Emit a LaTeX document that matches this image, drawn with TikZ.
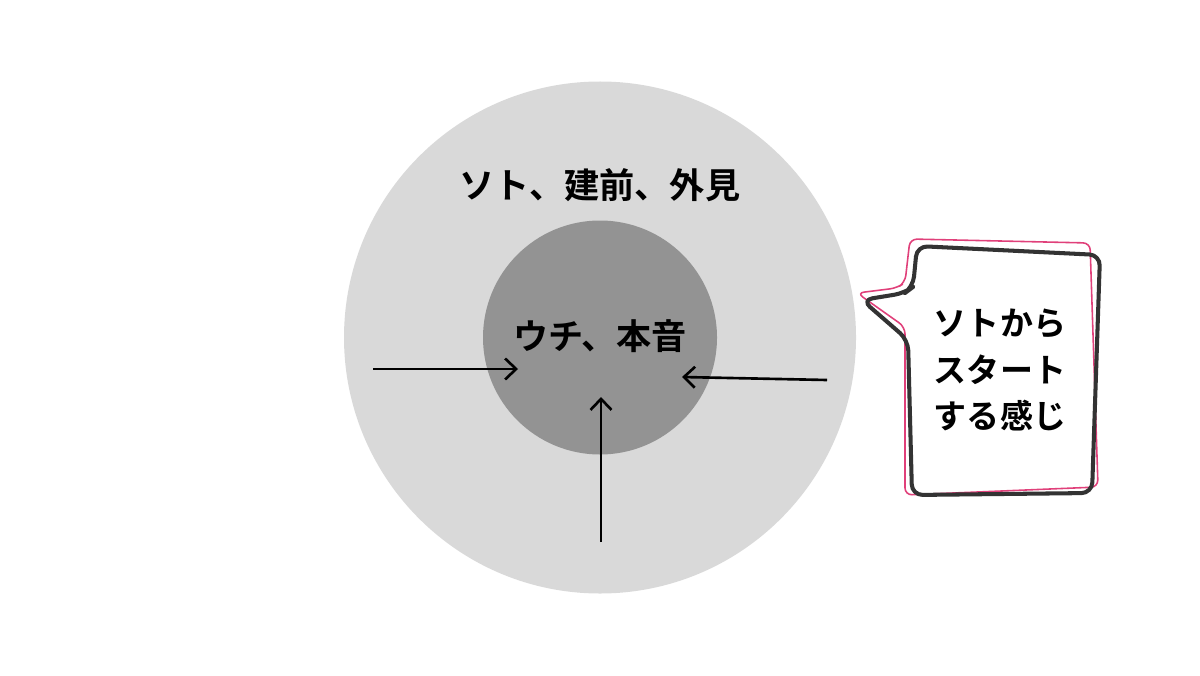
\documentclass[tikz,border=0pt]{standalone}
\usepackage{fontspec}
\newfontfamily\jpfont{Noto Sans CJK JP}[BoldFont={Noto Sans CJK JP Bold}]
\usetikzlibrary{arrows.meta}
\definecolor{outergray}{RGB}{217,217,217}
\definecolor{innergray}{RGB}{147,147,147}
\definecolor{bubbleline}{RGB}{51,51,51}
\definecolor{bubblepink}{RGB}{224,64,122}
\begin{document}
\begin{tikzpicture}[
		label/.style={font=\jpfont\bfseries\fontsize{20pt}{24pt}\selectfont},
		pointer/.style={line width=1.5pt,-{Straight Barb[length=2.2mm,width=4.2mm]}}]
			\useasboundingbox (0,0) rectangle (24,13.5);
			\fill [outergray] (12,6.75) circle (5.12);
			\fill [innergray] (12,6.75) circle (2.34);
			\node [label] (soto) at (12,9.8) {ソト、建前、外見};
			\node [label] (uchi) at (12,6.78) {ウチ、本音};
			\coordinate (fromleft) at (7.46,6.12);
			\coordinate (toleft) at (10.36,6.12);
			\coordinate (fromright) at (16.54,5.9);
			\coordinate (toright) at (13.64,5.96);
			\coordinate (frombottom) at (12.02,2.66);
			\coordinate (tobottom) at (12.02,5.56);
			\draw [pointer] (fromleft) -- (toleft);
			\draw [pointer] (fromright) -- (toright);
			\draw [pointer] (frombottom) -- (tobottom);
			\draw [bubblepink,line width=0.9pt,rounded corners=4pt] (18.2,8.72) -- (21.8,8.64)
				-- (21.96,3.76) -- (18.1,3.6) -- (18.1,6.96) -- (17.14,7.64)
				-- (17.94,7.74) -- (18.1,7.85) -- cycle;
			\draw [bubbleline,line width=2.3pt,rounded corners=6pt,line join=round] (18.34,8.58)
				-- (22.0,8.4) -- (21.84,3.64) -- (18.24,3.6) -- (18.16,6.7)
				-- (17.24,7.5) -- (18.1,7.64) -- (18.26,7.76) -- cycle;
			\node [font=\jpfont\bfseries\fontsize{18.8pt}{26.7pt}\selectfont,align=center] (bubbletext) at (20.0,6.1) {ソトから\\スタート\\する感じ};
		\end{tikzpicture}
\end{document}
